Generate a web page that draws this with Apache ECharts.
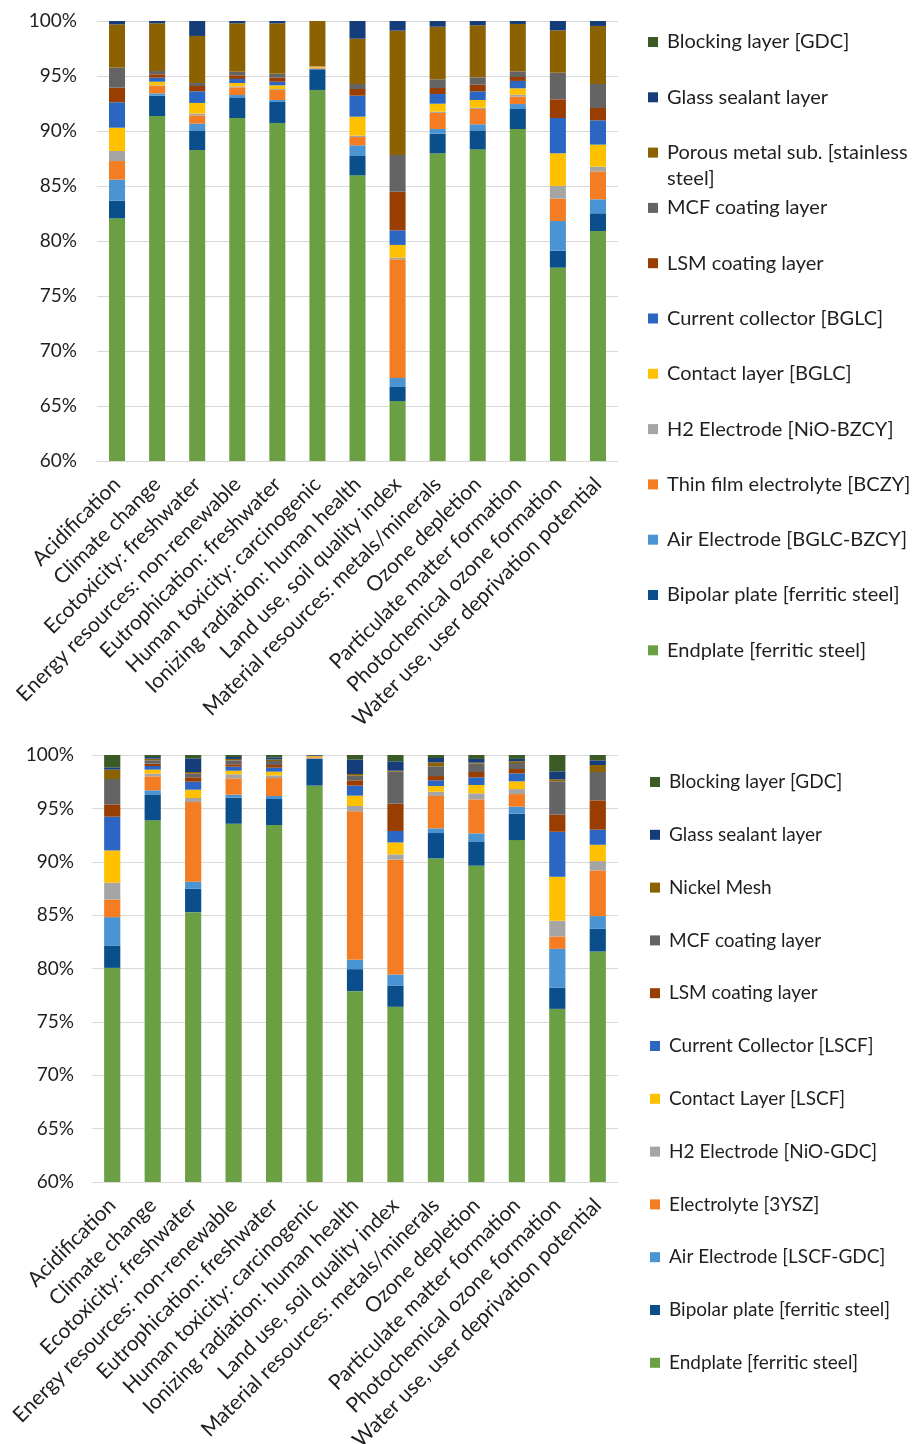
<!DOCTYPE html>
<html>
<head>
<meta charset="utf-8">
<script src="https://cdn.jsdelivr.net/npm/echarts@6/dist/echarts.min.js"></script>
<style>
html,body{margin:0;padding:0;background:#fff;}
#chart{width:921px;height:1444px;}
</style>
</head>
<body>
<div id="chart"></div>
<script>
// ---------- DATA ----------
const categories = ['Acidification','Climate change','Ecotoxicity: freshwater','Energy resources: non-renewable','Eutrophication: freshwater','Human toxicity: carcinogenic','Ionizing radiation: human health','Land use, soil quality index','Material resources: metals/minerals','Ozone depletion','Particulate matter formation','Photochemical ozone formation','Water use, user deprivation potential'];

const yTicks = [60, 65, 70, 75, 80, 85, 90, 95, 100];

// Top chart series names (stack order, bottom -> top)
const topNames = ['Endplate [ferritic steel]','Bipolar plate [ferritic steel]','Air Electrode [BGLC-BZCY]','Thin film electrolyte [BCZY]','H2 Electrode [NiO-BZCY]','Contact layer [BGLC]','Current collector [BGLC]','LSM coating layer','MCF coating layer','Porous metal sub. [stainless steel]','Glass sealant layer','Blocking layer [GDC]'];

const topEndplate    = [82.06, 91.36, 88.27, 91.18, 90.73, 93.73, 85.97, 65.45, 87.97, 88.33, 90.18, 77.58, 80.91];
const topBipolar     = [1.61, 1.85, 1.79, 1.88, 1.91, 1.88, 1.76, 1.28, 1.79, 1.73, 1.82, 1.54, 1.61];
const topAir         = [1.91, 0.21, 0.61, 0.21, 0.18, 0.06, 0.97, 0.82, 0.42, 0.55, 0.45, 2.70, 1.27];
const topElectrolyte = [1.69, 0.67, 0.75, 0.70, 0.91, 0.09, 0.75, 10.78, 1.46, 1.39, 0.67, 2.03, 2.54];
const topH2          = [0.91, 0.06, 0.16, 0.09, 0.09, 0.00, 0.13, 0.15, 0.12, 0.12, 0.18, 1.15, 0.43];
const topContact     = [2.12, 0.33, 0.97, 0.30, 0.33, 0.09, 1.72, 1.16, 0.72, 0.70, 0.58, 2.97, 2.00];
const topCurrent     = [2.31, 0.37, 1.06, 0.37, 0.33, 0.00, 1.91, 1.33, 0.88, 0.79, 0.67, 3.21, 2.21];
const topLSM         = [1.33, 0.30, 0.48, 0.33, 0.37, 0.00, 0.61, 3.51, 0.55, 0.60, 0.36, 1.70, 1.12];
const topMCF         = [1.82, 0.30, 0.27, 0.33, 0.36, 0.03, 0.45, 3.34, 0.79, 0.67, 0.51, 2.42, 2.18];
const topPorous      = [3.94, 4.34, 4.28, 4.40, 4.58, 4.12, 4.12, 11.30, 4.78, 4.73, 4.31, 3.85, 5.28];
const topGlass       = [0.30, 0.21, 1.36, 0.21, 0.21, 0.00, 1.61, 0.88, 0.52, 0.39, 0.27, 0.85, 0.45];
const topBlocking    = [0, 0, 0, 0, 0, 0, 0, 0, 0, 0, 0, 0, 0];

// Bottom chart series names (stack order, bottom -> top)
const botNames = ['Endplate [ferritic steel]','Bipolar plate [ferritic steel]','Air Electrode [LSCF-GDC]','Electrolyte [3YSZ]','H2 Electrode [NiO-GDC]','Contact Layer [LSCF]','Current Collector [LSCF]','LSM coating layer','MCF coating layer','Nickel Mesh','Glass sealant layer','Blocking layer [GDC]'];

const botEndplate    = [80.06, 93.88, 85.28, 93.56, 93.44, 97.13, 77.88, 76.41, 90.31, 89.63, 92.03, 76.22, 81.59];
const botBipolar     = [2.10, 2.43, 2.19, 2.44, 2.44, 2.50, 2.06, 2.00, 2.38, 2.28, 2.47, 2.00, 2.13];
const botAir         = [2.65, 0.38, 0.66, 0.28, 0.28, 0.06, 0.87, 1.03, 0.44, 0.75, 0.66, 3.62, 1.19];
const botElectrolyte = [1.66, 1.31, 7.46, 1.53, 1.68, 0.09, 13.91, 10.75, 3.03, 3.18, 1.18, 1.16, 4.28];
const botH2          = [1.56, 0.25, 0.38, 0.38, 0.25, 0.00, 0.50, 0.50, 0.40, 0.57, 0.47, 1.47, 0.87];
const botContact     = [3.03, 0.38, 0.78, 0.34, 0.35, 0.10, 0.97, 1.12, 0.53, 0.78, 0.72, 4.12, 1.53];
const botCurrent     = [3.16, 0.34, 0.75, 0.38, 0.37, 0.00, 0.94, 1.07, 0.54, 0.72, 0.75, 4.22, 1.41];
const botLSM         = [1.16, 0.22, 0.41, 0.22, 0.25, 0.00, 0.50, 2.56, 0.40, 0.50, 0.41, 1.60, 2.75];
const botMCF         = [2.37, 0.31, 0.37, 0.37, 0.38, 0.00, 0.43, 3.00, 0.91, 0.78, 0.56, 3.12, 2.66];
const botNickel      = [0.88, 0.16, 0.13, 0.13, 0.15, 0.06, 0.16, 0.09, 0.37, 0.09, 0.16, 0.19, 0.65];
const botGlass       = [0.21, 0.15, 1.28, 0.18, 0.19, 0.06, 1.34, 0.88, 0.41, 0.35, 0.22, 0.75, 0.44];
const botBlocking    = [1.16, 0.19, 0.31, 0.19, 0.22, 0.00, 0.44, 0.59, 0.28, 0.37, 0.37, 1.53, 0.50];

// ---------- STYLE ----------
const colors = ['#6AA043','#0A4F8C','#4A94D4','#F47C22','#A5A5A5','#FFC000','#2B67C2','#993D00','#646464','#8C6200','#143D7A','#3B5A26'];
const FONT = 'Lato';
const TXT = '#1f1f1f';

const topValues = [topEndplate, topBipolar, topAir, topElectrolyte, topH2, topContact, topCurrent, topLSM, topMCF, topPorous, topGlass, topBlocking];
const botValues = [botEndplate, botBipolar, botAir, botElectrolyte, botH2, botContact, botCurrent, botLSM, botMCF, botNickel, botGlass, botBlocking];

function makeSeries(names, values, idx, stack) {
  return names.map((n, i) => ({
    type: 'bar',
    name: n,
    stack: stack,
    xAxisIndex: idx,
    yAxisIndex: idx,
    barWidth: '40%',
    itemStyle: { color: colors[i] },
    emphasis: { disabled: true },
    data: values[i]
  }));
}

function makeLegends(names, startY, step, left, fontSize) {
  const out = [];
  const list = names.slice().reverse();
  list.forEach((n, k) => {
    const cy = startY + k * step;
    const wrap = n.indexOf('[stainless') >= 0;
    const lh = wrap ? 26 : 22;
    out.push({
      data: [n],
      orient: 'vertical',
      left: left,
      top: wrap ? cy - 39 : cy - lh / 2,
      padding: 0,
      itemWidth: 10,
      itemHeight: 10,
      icon: 'rect',
      selectedMode: false,
      formatter: wrap ? (name => '\n' + name.replace('[stainless ', '[stainless\n')) : '{name}',
      textStyle: {
        fontFamily: FONT,
        fontSize: fontSize,
        color: TXT,
        lineHeight: lh,
        padding: [0, 0, 0, 4]
      }
    });
  });
  return out;
}

function xAxisCfg(gi) {
  return {
    type: 'category',
    gridIndex: gi,
    data: categories,
    axisLine: { show: true, lineStyle: { color: '#D9D9D9', width: 1 } },
    axisTick: { show: false },
    axisLabel: {
      interval: 0,
      rotate: 45,
      margin: 20,
      fontFamily: FONT,
      fontSize: 21,
      color: TXT
    }
  };
}
function yAxisCfg(gi, margin) {
  return {
    type: 'value',
    gridIndex: gi,
    min: yTicks[0],
    max: yTicks[yTicks.length - 1],
    interval: yTicks[1] - yTicks[0],
    axisLine: { show: false },
    axisTick: { show: false },
    splitLine: { lineStyle: { color: '#D9D9D9', width: 1 } },
    axisLabel: {
      formatter: '{value}%',
      margin: margin,
      fontFamily: FONT,
      fontSize: 19,
      color: TXT
    }
  };
}

const chart = echarts.init(document.getElementById('chart'), null, { renderer: 'canvas' });
chart.setOption({
  animation: false,
  backgroundColor: '#ffffff',
  grid: [
    { left: 97, top: 21, width: 521, height: 440, containLabel: false, outerBoundsMode: 'none' },
    { left: 92, top: 755, width: 526, height: 427, containLabel: false, outerBoundsMode: 'none' }
  ],
  xAxis: [xAxisCfg(0), xAxisCfg(1)],
  yAxis: [yAxisCfg(0, 20), yAxisCfg(1, 18)],
  legend: makeLegends(topNames, 42, 55.3, 648, 20).concat(makeLegends(botNames, 782, 52.8, 650, 19)),
  series: makeSeries(topNames, topValues, 0, 'top').concat(makeSeries(botNames, botValues, 1, 'bot'))
});
</script>
</body>
</html>
